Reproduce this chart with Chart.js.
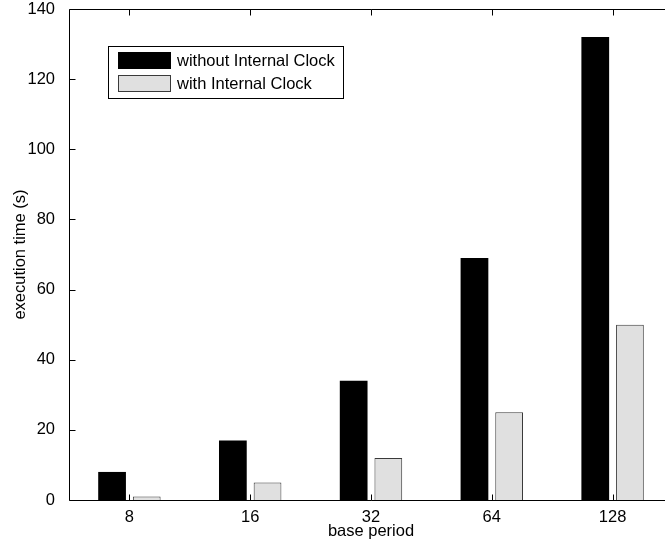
<!DOCTYPE html>
<html lang="en">
<head>
    <meta charset="UTF-8">
    <script src="https://cdn.jsdelivr.net/npm/chart.js"></script>
    <title>Execution time vs base period</title>
</head>
<style>
    html, body {
        margin: 0;
        padding: 0;
        overflow: hidden;
        background: #fff;
    }
    .ChartBox {
        width: 665px;
        height: 549px;
        overflow: hidden;
    }
</style>
<body>
    <div class="ChartBox">
        <canvas id="timeChart" width="673" height="549"></canvas>
    </div>
</body>
<script>
    // base periods on the x axis and measured execution times (s)
    const basePeriods = ['8', '16', '32', '64', '128'];
    const withoutClock = [8, 17, 34, 69, 132];
    const withClock = [1, 5, 12, 25, 50];
    const yTickValues = [0, 20, 40, 60, 80, 100, 120, 140];

    const FONT = 'Liberation Sans, Arial, Helvetica, sans-serif';

    // axis lines, inward tick marks and the boxed legend
    const framePlugin = {
        id: 'frame',
        afterDraw(chart) {
            const ctx = chart.ctx;
            const area = chart.chartArea;
            const xs = chart.scales.x;
            const ys = chart.scales.y;
            const tick = 6;
            const left = Math.round(area.left) + 0.5;
            const top = Math.round(area.top) + 0.5;
            const bottom = Math.round(area.bottom) + 0.5;

            ctx.save();
            ctx.strokeStyle = '#000';
            ctx.lineWidth = 1;

            // top and bottom lines run on past the canvas edge
            ctx.beginPath();
            ctx.moveTo(left, top);
            ctx.lineTo(chart.width, top);
            ctx.stroke();
            ctx.beginPath();
            ctx.moveTo(left, top);
            ctx.lineTo(left, bottom);
            ctx.stroke();
            ctx.beginPath();
            ctx.moveTo(left, bottom);
            ctx.lineTo(chart.width, bottom);
            ctx.stroke();

            ctx.beginPath();
            yTickValues.forEach(v => {
                const y = Math.round(ys.getPixelForValue(v)) + 0.5;
                ctx.moveTo(left, y);
                ctx.lineTo(left + tick, y);
            });
            basePeriods.forEach((p, i) => {
                const x = Math.round(xs.getPixelForValue(i)) + 0.5;
                ctx.moveTo(x, bottom);
                ctx.lineTo(x, bottom - tick);
                ctx.moveTo(x, top);
                ctx.lineTo(x, top + tick);
            });
            ctx.stroke();

            // legend
            const box = {x: 108.5, y: 46.5, w: 235, h: 52};
            ctx.fillStyle = '#fff';
            ctx.fillRect(box.x, box.y, box.w, box.h);
            ctx.strokeRect(box.x, box.y, box.w, box.h);
            ctx.font = '16.5px ' + FONT;
            ctx.textBaseline = 'middle';
            ctx.textAlign = 'left';
            chart.data.datasets.forEach((ds, i) => {
                const rowY = 52.5 + i * 23;
                ctx.fillStyle = ds.backgroundColor;
                ctx.fillRect(118.5, rowY, 52, 16);
                ctx.strokeStyle = ds.borderColor;
                ctx.strokeRect(118.5, rowY, 52, 16);
                ctx.fillStyle = '#000';
                ctx.fillText(ds.label, 177, rowY + 8.5);
            });
            ctx.restore();
        }
    };

    const ctx = document.getElementById('timeChart').getContext('2d');

    const chart = new Chart(ctx, {
        type: 'bar',
        data: {
            labels: basePeriods,
            datasets: [{
                label: 'without Internal Clock',
                data: withoutClock,
                backgroundColor: '#000000',
                borderColor: '#000000',
                borderWidth: 0
            }, {
                label: 'with Internal Clock',
                data: withClock,
                backgroundColor: '#e0e0e0',
                borderColor: '#3a3a3a',
                borderWidth: 1
            }]
        },
        options: {
            responsive: false,
            animation: false,
            categoryPercentage: 0.574,
            barPercentage: 0.8,
            layout: {
                padding: {top: 9, left: 0, right: 0, bottom: 0}
            },
            plugins: {
                legend: {display: false},
                tooltip: {enabled: false}
            },
            scales: {
                x: {
                    grid: {display: false},
                    border: {display: false},
                    ticks: {
                        color: '#000',
                        font: {family: FONT, size: 16.5},
                        padding: 0
                    },
                    title: {
                        display: true,
                        text: 'base period',
                        color: '#000',
                        font: {family: FONT, size: 16.5},
                        padding: {top: 0, bottom: 8}
                    },
                    afterFit(scale) {
                        scale.height = 49;
                    }
                },
                y: {
                    min: 0,
                    max: 140,
                    grid: {display: false},
                    border: {display: false},
                    ticks: {
                        stepSize: 20,
                        color: '#000',
                        font: {family: FONT, size: 16.5},
                        padding: 6
                    },
                    title: {
                        display: true,
                        text: 'execution time (s)',
                        color: '#000',
                        font: {family: FONT, size: 16.5},
                        padding: {top: 10.5, bottom: 0}
                    },
                    afterFit(scale) {
                        scale.width = 69;
                        scale.paddingTop = 0;
                        scale.paddingBottom = 0;
                    }
                }
            }
        },
        plugins: [framePlugin]
    });
</script>
</html>
